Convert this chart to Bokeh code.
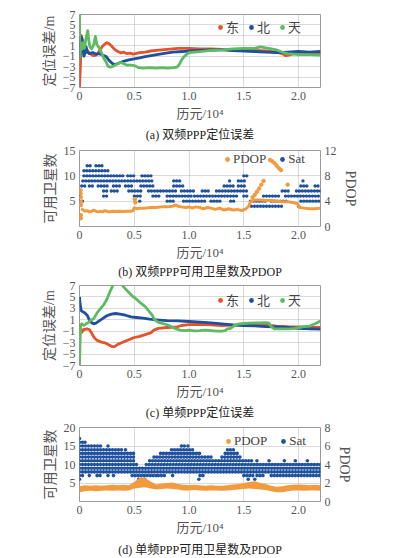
from bokeh.plotting import figure
from bokeh.models import (Range1d, LinearAxis, FixedTicker, Legend, LegendItem, Title,
                          ColumnDataSource, CDSView, IndexFilter)
from bokeh.layouts import column
from bokeh.embed import file_html
from bokeh.resources import INLINE

# ---------------- data (x in 10^4 epochs) ----------------
x_ticks = [0, 0.5, 1, 1.5, 2]
x_tick_labels = {0: "0", 0.5: "0.5", 1: "1.0", 1.5: "1.5", 2: "2.0"}
err_ticks = [-7, -5, -3, -1, 1, 3, 5, 7]
err_tick_labels = {-7: "\u22127", -5: "\u22125", -3: "\u22123", -1: "\u22121", 1: "1", 3: "3", 5: "5", 7: "7"}

# (a) dual-frequency PPP positioning error (m)
a_east_x = [0.0, 0.008, 0.015, 0.025, 0.04, 0.055, 0.07, 0.09, 0.11, 0.13, 0.15, 0.17, 0.19, 0.21, 0.23, 0.25,
            0.27, 0.29, 0.32, 0.35, 0.38, 0.40, 0.43, 0.46, 0.49, 0.55, 0.60, 0.65, 0.70, 0.75, 0.80, 0.85,
            0.90, 0.95, 1.00, 1.10, 1.20, 1.30, 1.40, 1.50, 1.60, 1.70, 1.80, 1.85, 1.88, 1.91, 1.95, 2.00, 2.10, 2.20]
a_east_y = [-7.0, -3.0, 3.0, 2.2, 1.2, 0.6, 0.2, -0.4, -0.7, -0.9, -0.8, -0.4, 0.3, 0.9, 1.3, 1.6,
            1.4, 1.0, 0.3, -0.1, -0.4, -0.2, -0.5, -0.4, -0.6, -0.3, -0.2, 0.0, 0.1, 0.2, 0.3, 0.4,
            0.5, 0.5, 0.5, 0.4, 0.4, 0.3, 0.2, 0.1, 0.1, 0.0, -0.2, -0.5, -0.9, -0.8, -0.5, -0.5, -0.4, -0.5]
a_north_x = [0.0, 0.004, 0.01, 0.02, 0.03, 0.04, 0.05, 0.06, 0.07, 0.09, 0.12, 0.15, 0.18, 0.21, 0.24, 0.27,
             0.30, 0.32, 0.35, 0.40, 0.45, 0.50, 0.55, 0.60, 0.68, 0.76, 0.85, 0.94, 1.00, 1.10, 1.20, 1.30,
             1.40, 1.50, 1.60, 1.70, 1.80, 1.90, 2.00, 2.10, 2.20]
a_north_y = [2.8, -1.2, 0.5, 2.6, 0.8, -1.0, -0.4, 0.8, -0.2, -0.5, -0.3, -0.6, -0.5, -0.8, -1.0, -1.8,
             -2.4, -2.6, -2.4, -2.0, -1.7, -1.5, -1.3, -1.1, -0.8, -0.5, -0.2, -0.1, 0.0, 0.1, 0.2, 0.2,
             0.1, 0.0, -0.1, -0.2, -0.3, -0.2, -0.1, -0.2, -0.1]
a_up_x = [0.0, 0.003, 0.01, 0.02, 0.03, 0.045, 0.06, 0.075, 0.085, 0.095, 0.11, 0.13, 0.145, 0.16, 0.18, 0.20,
          0.22, 0.24, 0.26, 0.28, 0.30, 0.32, 0.35, 0.38, 0.40, 0.43, 0.47, 0.50, 0.54, 0.58, 0.65, 0.70,
          0.75, 0.80, 0.86, 0.89, 0.91, 0.93, 0.95, 0.98, 1.00, 1.05, 1.10, 1.20, 1.30, 1.40, 1.50, 1.60,
          1.65, 1.70, 1.75, 1.80, 1.85, 1.90, 1.95, 2.00, 2.10, 2.20]
a_up_y = [7.5, -1.2, 1.5, 0.3, 1.6, 0.5, 2.5, 3.9, 2.0, 0.8, 0.4, 1.2, 2.8, 1.2, 0.6, -0.3,
          -1.3, -2.0, -2.9, -3.1, -3.0, -2.8, -2.4, -2.2, -2.4, -2.7, -2.7, -2.8, -3.2, -3.3, -3.2, -3.3,
          -3.2, -3.3, -3.2, -3.1, -2.6, -1.8, -1.2, -0.6, -0.3, -0.2, -0.1, 0.1, 0.2, 0.4, 0.5, 0.5,
          0.8, 0.6, 0.4, 0.2, -0.2, -0.5, -0.6, -0.7, -0.7, -0.8]

# (b) dual-frequency: satellites (level, from, to) and PDOP
sat_b = [(12, 0.07, 0.11), (12, 0.15, 0.21),
         (11, 0.04, 0.28),
         (10, 0.04, 0.40), (10, 0.44, 0.52), (10, 0.57, 0.66), (10, 1.50, 1.53),
         (9, 0.03, 0.68), (9, 0.86, 0.94), (9, 1.37, 1.39), (9, 1.45, 1.53), (9, 2.04, 2.06),
         (8, 0.02, 0.06), (8, 0.09, 0.14), (8, 0.17, 0.27), (8, 0.31, 0.38), (8, 0.42, 0.50), (8, 0.56, 0.68),
         (8, 0.86, 0.95), (8, 1.32, 1.42), (8, 1.45, 1.53), (8, 2.02, 2.08), (8, 2.15, 2.18),
         (7, 0.22, 0.26), (7, 0.29, 0.35), (7, 0.45, 0.57), (7, 0.63, 0.88), (7, 0.93, 1.06), (7, 1.12, 1.20),
         (7, 1.25, 1.53), (7, 1.85, 1.92), (7, 1.98, 2.20),
         (6, 0.00, 0.02), (6, 0.22, 0.25), (6, 0.50, 0.58), (6, 0.67, 0.75), (6, 0.80, 1.02), (6, 1.05, 1.45),
         (6, 1.50, 1.54), (6, 1.68, 1.84), (6, 1.88, 2.20),
         (5, 0.00, 0.03), (5, 0.55, 0.57), (5, 0.80, 0.88), (5, 0.95, 1.15), (5, 1.20, 1.30), (5, 1.38, 1.42),
         (5, 1.56, 1.70), (5, 1.75, 1.90), (5, 2.02, 2.20),
         (4, 1.57, 1.86), (4, 2.00, 2.02)]
pdop_b_x = [0.02, 0.03, 0.05, 0.07, 0.09, 0.11, 0.13, 0.15, 0.17, 0.19, 0.21, 0.23, 0.25, 0.27, 0.30, 0.33,
            0.36, 0.40, 0.44, 0.47, 0.49, 0.50, 0.52, 0.55, 0.60, 0.65, 0.70, 0.75, 0.80, 0.85, 0.88, 0.90,
            0.93, 0.97, 1.00, 1.03, 1.06, 1.10, 1.13, 1.17, 1.20, 1.24, 1.28, 1.32, 1.36, 1.40, 1.44, 1.48,
            1.52, 1.545, 1.56, 1.60, 1.65, 1.70, 1.75, 1.80, 1.85, 1.90, 1.95, 1.99, 2.01, 2.05, 2.10, 2.15, 2.20]
pdop_b_y = [2.9, 2.6, 2.4, 2.5, 2.3, 2.4, 2.6, 2.4, 2.3, 2.4, 2.3, 2.5, 2.4, 2.3, 2.4, 2.35,
            2.4, 2.35, 2.4, 2.4, 2.5, 3.0, 2.8, 2.9, 2.9, 3.0, 3.0, 3.1, 3.1, 3.2, 3.4, 3.2,
            3.1, 3.0, 3.1, 2.9, 3.1, 3.0, 2.8, 3.0, 2.9, 2.7, 2.9, 2.6, 2.8, 2.6, 2.7, 2.5,
            2.8, 3.2, 3.9, 4.2, 4.2, 4.1, 4.1, 4.0, 3.9, 3.9, 3.8, 3.6, 3.0, 2.9, 2.8, 2.8, 2.9]
pdop_b_out_x = [0.010, 0.011, 0.012, 0.013, 0.014, 0.012, 0.013, 0.505, 0.51, 1.58, 1.60, 1.62, 1.64, 1.66,
                1.68, 1.74, 1.76, 1.78, 1.80, 1.82, 1.84, 1.90]
pdop_b_out_y = [5.7, 5.2, 4.6, 3.9, 3.4, 1.3, 1.8, 4.3, 3.8, 4.6, 5.0, 5.5, 6.0, 6.6,
                7.2, 10.5, 10.3, 10.0, 9.6, 9.2, 8.9, 6.6]

# (c) single-frequency PPP positioning error (m)
c_east_x = [0.0, 0.01, 0.02, 0.04, 0.07, 0.09, 0.11, 0.13, 0.16, 0.20, 0.24, 0.27, 0.30, 0.32, 0.35, 0.40,
            0.45, 0.50, 0.55, 0.60, 0.65, 0.68, 0.72, 0.80, 0.88, 0.93, 1.00, 1.10, 1.20, 1.30, 1.40, 1.50,
            1.60, 1.70, 1.80, 1.90, 2.00, 2.10, 2.20]
c_east_y = [0.2, -0.3, -1.2, -0.7, -0.6, -0.7, -1.3, -2.0, -2.6, -2.9, -3.1, -3.4, -3.7, -3.7, -3.3, -2.9,
            -2.5, -2.1, -1.9, -1.6, -1.3, -0.8, -0.5, -0.35, -0.3, 0.0, 0.15, 0.2, 0.1, 0.0, 0.05, 0.1,
            0.15, 0.1, -0.1, -0.2, -0.25, -0.3, -0.35]
c_north_x = [0.0, 0.005, 0.015, 0.03, 0.05, 0.07, 0.09, 0.11, 0.13, 0.15, 0.18, 0.21, 0.25, 0.29, 0.33, 0.37,
             0.42, 0.47, 0.52, 0.58, 0.64, 0.70, 0.80, 0.90, 1.00, 1.10, 1.20, 1.30, 1.40, 1.50, 1.60, 1.70,
             1.80, 1.90, 2.00, 2.10, 2.20]
c_north_y = [5.0, 4.0, 2.6, 2.4, 2.2, 1.8, 1.0, 0.5, 0.3, 0.4, 0.8, 1.2, 1.7, 2.0, 2.1, 2.0,
             1.8, 1.5, 1.4, 1.3, 1.1, 1.0, 0.85, 0.8, 0.7, 0.6, 0.45, 0.3, 0.1, 0.0, -0.05, -0.18,
             -0.25, -0.35, -0.5, -0.58, -0.65]
c_up_x = [0.0, 0.005, 0.01, 0.02, 0.04, 0.06, 0.08, 0.10, 0.13, 0.16, 0.19, 0.22, 0.25, 0.28, 0.31, 0.34,
          0.37, 0.40, 0.44, 0.48, 0.52, 0.56, 0.60, 0.63, 0.66, 0.68, 0.70, 0.73, 0.77, 0.81, 0.85, 0.88,
          0.92, 0.96, 1.00, 1.05, 1.10, 1.15, 1.20, 1.25, 1.30, 1.33, 1.35, 1.38, 1.42, 1.46, 1.50, 1.55,
          1.60, 1.65, 1.70, 1.73, 1.75, 1.78, 1.85, 1.92, 1.97, 2.00, 2.05, 2.10, 2.15, 2.20]
c_up_y = [-7.0, -3.0, 0.0, 0.3, 0.0, 0.3, 0.5, 0.9, 1.2, 2.2, 2.9, 3.6, 4.6, 6.0, 7.2, 8.0,
          7.8, 6.8, 6.0, 5.2, 4.6, 3.9, 3.3, 2.6, 1.9, 1.2, 0.8, 0.5, 0.3, 0.05, -0.3, -0.6,
          -0.8, -0.9, -0.8, -0.95, -0.9, -0.8, -0.9, -1.0, -1.0, -0.9, -0.6, -0.5, 0.1, 0.3, 0.35, 0.4,
          0.45, 0.45, 0.5, 0.4, -0.2, -0.6, -0.6, -0.6, -0.5, -0.35, -0.2, -0.1, 0.3, 0.8]

# (d) single-frequency: satellites (level, from, to) and PDOP band
sat_d = [(17, 0.00, 0.02),
         (16, 0.00, 0.03), (16, 0.05, 0.07),
         (15, 0.00, 0.21), (15, 0.26, 0.27), (15, 0.93, 0.96), (15, 0.99, 1.01),
         (14, 0.00, 0.39), (14, 0.42, 0.44), (14, 0.84, 1.04), (14, 1.35, 1.42),
         (13, 0.00, 0.50), (13, 0.74, 1.10), (13, 1.33, 1.45),
         (12, 0.00, 0.51), (12, 0.68, 1.22), (12, 1.30, 1.48),
         (11, 0.00, 0.52), (11, 0.64, 1.58), (11, 1.62, 1.63), (11, 1.73, 1.74), (11, 1.87, 1.89),
         (11, 1.97, 1.98), (11, 2.08, 2.09),
         (10, 0.00, 0.53), (10, 0.61, 2.20),
         (9, 0.00, 2.20),
         (8, 0.00, 2.20),
         (7, 0.00, 0.03), (7, 0.09, 0.11), (7, 0.16, 0.19), (7, 0.26, 0.28), (7, 0.31, 0.33), (7, 0.48, 0.70),
         (7, 0.72, 0.78), (7, 0.85, 0.87), (7, 1.10, 1.14), (7, 1.50, 1.60), (7, 1.62, 1.68), (7, 1.75, 2.20),
         (6, 0.00, 0.01), (6, 0.54, 0.62), (6, 1.09, 1.11), (6, 1.54, 1.56), (6, 1.60, 1.62)]
pdop_d_x = [0.0, 0.05, 0.10, 0.15, 0.20, 0.25, 0.30, 0.35, 0.40, 0.45, 0.50, 0.55, 0.60, 0.65, 0.70, 0.75,
            0.80, 0.85, 0.90, 0.95, 1.00, 1.05, 1.10, 1.15, 1.20, 1.25, 1.30, 1.35, 1.40, 1.45, 1.50, 1.55,
            1.60, 1.65, 1.70, 1.75, 1.80, 1.85, 1.90, 1.95, 2.00, 2.05, 2.10, 2.15, 2.20]
pdop_d_lo = [1.0, 1.1, 1.15, 1.1, 1.15, 1.2, 1.15, 1.2, 1.15, 1.2, 1.4, 1.5, 1.55, 1.4, 1.3, 1.35,
             1.4, 1.35, 1.3, 1.2, 1.2, 1.25, 1.2, 1.15, 1.2, 1.2, 1.15, 1.2, 1.25, 1.3, 1.35, 1.4,
             1.35, 1.3, 1.25, 1.1, 1.0, 1.0, 1.1, 1.2, 1.2, 1.15, 1.2, 1.2, 1.15]
pdop_d_hi = [1.65, 1.75, 1.7, 1.75, 1.7, 1.75, 1.8, 1.75, 1.8, 1.75, 2.1, 2.6, 2.55, 2.15, 1.85, 1.95,
             2.0, 2.05, 1.9, 1.8, 1.75, 1.8, 1.75, 1.7, 1.75, 1.7, 1.7, 1.75, 1.85, 1.9, 2.0, 2.1,
             2.2, 2.0, 1.9, 1.7, 1.6, 1.65, 1.75, 1.8, 1.85, 1.8, 1.75, 1.8, 1.75]

# ---------------- style ----------------
RED, BLUE, GREEN = "#e5532c", "#1f4f9f", "#5dbb61"
ORANGE, SATBLUE = "#f29a3e", "#21529f"
SERIF = "Liberation Serif"
MIXED = "Liberation Serif, Noto Sans CJK SC"
TXT = "#555555"


def base_fig(top, fh, bottom, y0, y1):
    p = figure(frame_width=241, frame_height=fh, min_border_left=79, min_border_right=75,
               min_border_top=top, min_border_bottom=bottom,
               x_range=Range1d(0, 2.2), y_range=Range1d(y0, y1),
               output_backend="svg", toolbar_location=None)
    p.outline_line_color = "#9a9a9a"
    p.outline_line_width = 1
    p.background_fill_color = "white"
    p.border_fill_color = "white"
    p.grid.grid_line_color = "#b4b4b4"
    p.grid.grid_line_dash = "1 1"
    p.xaxis.ticker = FixedTicker(ticks=x_ticks)
    p.xaxis.major_label_overrides = x_tick_labels
    p.xaxis.axis_label = "历元/10\u2074"
    p.xaxis.axis_label_text_font_size = "13px"
    return p


def style_axes(p):
    for ax in p.axis:
        ax.axis_line_color = None
        ax.major_tick_line_color = None
        ax.minor_tick_line_color = None
        ax.major_tick_in = 0
        ax.major_tick_out = 0
        ax.major_label_standoff = 4
        ax.major_label_text_font = SERIF
        ax.major_label_text_font_size = "12px"
        ax.major_label_text_color = TXT
        ax.axis_label_text_font = MIXED
        ax.axis_label_text_font_style = "normal"
        ax.axis_label_text_color = TXT
        ax.axis_label_standoff = 3


def caption(p, text, standoff):
    t = Title(text=text, align="center", text_font=MIXED, text_font_size="12px",
              text_font_style="normal", text_color="#222222", standoff=standoff)
    p.add_layout(t, "below")


def legend_key(p, src, col, **kw):
    # legend swatch: a dot that takes its colour from the series (no visible mark on the plot)
    return p.scatter("x", "y", source=src, fill_color=col, line_color=None, size=0,
                     view=CDSView(filter=IndexFilter([0])), **kw)


def make_legend(items, loc, font, spacing, label_width):
    return Legend(items=items, orientation="horizontal", location=loc,
                  border_line_color=None, background_fill_alpha=0, padding=2, margin=0,
                  spacing=spacing, glyph_width=12, glyph_height=14, label_standoff=0,
                  label_text_font=font, label_text_font_size="13px", label_text_color="#444444",
                  label_height=14, label_width=label_width)


def error_panel(top, fh, bottom, ex, ey, nx, ny, ux, uy, cap, cap_off, loc):
    p = base_fig(top, fh, bottom, -7, 7)
    p.yaxis.ticker = FixedTicker(ticks=err_ticks)
    p.yaxis.major_label_overrides = err_tick_labels
    p.yaxis.axis_label = "定位误差/m"
    p.yaxis.axis_label_text_font_size = "14px"
    items = []
    for xs, ys, col, name in [(ex, ey, RED, "东"), (nx, ny, BLUE, "北"), (ux, uy, GREEN, "天")]:
        src = ColumnDataSource(dict(x=xs, y=ys))
        p.line("x", "y", source=src, line_color=col, line_width=2.8, line_join="round")
        items.append(LegendItem(label=name, renderers=[legend_key(p, src, col)]))
    p.add_layout(make_legend(items, loc, MIXED, 6, 13))
    style_axes(p)
    caption(p, cap, cap_off)
    return p


def sat_panel(top, fh, bottom, smax, pmax, yticks, pticks, sats, cap, cap_off, dot_w):
    p = base_fig(top, fh, bottom, 0, smax)
    p.extra_y_ranges = {"pdop": Range1d(0, pmax)}
    p.yaxis.ticker = FixedTicker(ticks=yticks)
    p.yaxis.axis_label = "可用卫星数"
    p.yaxis.axis_label_text_font_size = "14px"
    rax = LinearAxis(y_range_name="pdop", axis_label="PDOP", ticker=FixedTicker(ticks=pticks))
    rax.axis_label_text_font_size = "14px"
    p.add_layout(rax, "right")
    src = ColumnDataSource(dict(x=[s[1] for s in sats], x1=[s[2] for s in sats], y=[s[0] for s in sats]))
    p.segment("x", "y", "x1", "y", source=src, line_color=SATBLUE, line_width=dot_w,
              line_dash="0 3", line_cap="round")
    style_axes(p)
    caption(p, cap, cap_off)
    return p, src


# (a)
pa = error_panel(14, 73, 53, a_east_x, a_east_y, a_north_x, a_north_y, a_up_x, a_up_y,
                 "(a) 双频PPP定位误差", 4, (135, 51))

# (b)
pb, sat_b_src = sat_panel(7, 76, 53, 15, 12, [5, 10, 15], [0, 4, 8, 12], sat_b,
                          "(b) 双频PPP可用卫星数及PDOP", 0, 3.4)
src_pb = ColumnDataSource(dict(x=pdop_b_x, y=pdop_b_y))
pb.line("x", "y", source=src_pb, y_range_name="pdop", line_color=ORANGE, line_width=3)
pb.scatter(pdop_b_out_x, pdop_b_out_y, y_range_name="pdop", color=ORANGE, size=3.5)
pb.add_layout(make_legend([LegendItem(label="PDOP", renderers=[legend_key(pb, src_pb, ORANGE, y_range_name="pdop")]),
                           LegendItem(label="Sat", renderers=[legend_key(pb, sat_b_src, SATBLUE)])],
                          (142, 59), SERIF, 10, 18))

# (c)
pc = error_panel(6, 80, 54, c_east_x, c_east_y, c_north_x, c_north_y, c_up_x, c_up_y,
                 "(c) 单频PPP定位误差", 4, (135, 56))

# (d)
pd_, sat_d_src = sat_panel(6, 74, 62, 20, 8, [5, 10, 15, 20], [0, 2, 4, 6, 8], sat_d,
                           "(d) 单频PPP可用卫星数及PDOP", 6, 3.6)
src_pd = ColumnDataSource(dict(x=pdop_d_x, y=pdop_d_lo, hi=pdop_d_hi))
pd_.varea(x="x", y1="y", y2="hi", source=src_pd, y_range_name="pdop", fill_color=ORANGE)
pd_.add_layout(make_legend([LegendItem(label="PDOP", renderers=[legend_key(pd_, src_pd, ORANGE, y_range_name="pdop")]),
                            LegendItem(label="Sat", renderers=[legend_key(pd_, sat_d_src, SATBLUE)])],
                           (143, 52), SERIF, 10, 18))

layout = column(pa, pb, pc, pd_, spacing=0)
open("out.html", "w").write(file_html(layout, INLINE))
